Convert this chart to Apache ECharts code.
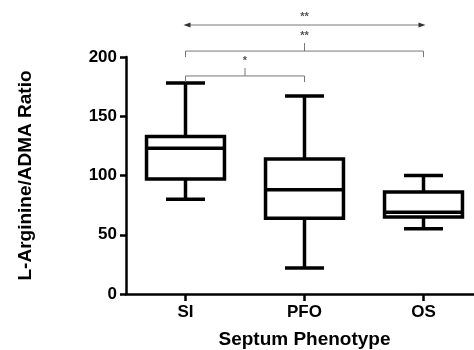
<!DOCTYPE html>
<html>
<head>
<meta charset="utf-8">
<script src="https://cdn.jsdelivr.net/npm/echarts@6/dist/echarts.min.js"></script>
<style>html,body{margin:0;padding:0;background:#fff}#c{width:474px;height:350px}</style>
</head>
<body>
<div id="c"></div>
<script>
// ---- data ----
var categories = ['SI', 'PFO', 'OS'];
var whiskerLow = [80, 22, 55];
var q1 = [97, 64, 65];
var median = [123, 88, 69];
var q3 = [133, 114, 86];
var whiskerHigh = [178, 167, 100];
var yTicks = [0, 50, 100, 150, 200];

// significance annotations
var sigFrom = [0, 0, 0];
var sigTo = [1, 2, 2];
var sigLevel = [184, 205, 227];
var sigKind = ['bracket', 'bracket', 'arrow'];
var sigLabels = ['*', '**', '**'];

var FONT = '"Liberation Sans", Arial, sans-serif';
var chart = echarts.init(document.getElementById('c'), null, {renderer: 'canvas'});

var boxData = categories.map(function (c, i) {
  return [i, whiskerLow[i], q1[i], median[i], q3[i], whiskerHigh[i]];
});
var sigData = sigFrom.map(function (f, i) { return [f, sigTo[i], sigLevel[i]]; });

var LW = 3.5;
var GRAY = '#777';

function renderBox(params, api) {
  var x = api.value(0);
  var pLow = api.coord([x, api.value(1)]);
  var pQ1 = api.coord([x, api.value(2)]);
  var pMed = api.coord([x, api.value(3)]);
  var pQ3 = api.coord([x, api.value(4)]);
  var pHigh = api.coord([x, api.value(5)]);
  var band = api.size([1, 0])[0];
  var bw = band * 0.655;
  var cw = bw / 2;
  var cx = pMed[0];
  var st = {stroke: '#000', lineWidth: LW, fill: null};
  function line(x1, y1, x2, y2) {
    return {type: 'line', shape: {x1: x1, y1: y1, x2: x2, y2: y2}, style: st};
  }
  return {
    type: 'group',
    children: [
      line(cx, pHigh[1], cx, pQ3[1]),
      line(cx, pQ1[1], cx, pLow[1]),
      line(cx - cw / 2, pHigh[1], cx + cw / 2, pHigh[1]),
      line(cx - cw / 2, pLow[1], cx + cw / 2, pLow[1]),
      {type: 'rect', shape: {x: cx - bw / 2, y: pQ3[1], width: bw, height: pQ1[1] - pQ3[1]},
       style: {stroke: '#000', lineWidth: LW, fill: '#fff'}},
      line(cx - bw / 2, pMed[1], cx + bw / 2, pMed[1])
    ]
  };
}

function renderSig(params, api) {
  var i = params.dataIndex;
  var a = api.coord([api.value(0), api.value(2)]);
  var b = api.coord([api.value(1), api.value(2)]);
  var y = a[1];
  var st = {stroke: GRAY, lineWidth: 1, fill: null};
  var mid = (a[0] + b[0]) / 2;
  var children = [];
  var labelY;
  if (sigKind[i] === 'bracket') {
    children.push({type: 'polyline', shape: {points: [[a[0], y + 6], [a[0], y], [b[0], y], [b[0], y + 6]]}, style: st});
    children.push({type: 'line', shape: {x1: mid, y1: y, x2: mid, y2: y - 8}, style: st});
    labelY = y - 18;
  } else {
    children.push({type: 'line', shape: {x1: a[0] + 2, y1: y, x2: b[0] - 2, y2: y}, style: st});
    children.push({type: 'polygon', shape: {points: [[a[0] - 2, y], [a[0] + 5, y - 2.5], [a[0] + 5, y + 2.5]]}, style: {fill: '#333'}});
    children.push({type: 'polygon', shape: {points: [[b[0] + 2, y], [b[0] - 5, y - 2.5], [b[0] - 5, y + 2.5]]}, style: {fill: '#333'}});
    labelY = y - 11;
  }
  children.push({type: 'text', style: {text: sigLabels[i], x: mid, y: labelY + 3, align: 'center', verticalAlign: 'middle',
    font: 'bold 11px ' + FONT, fill: '#555'}});
  return {type: 'group', children: children};
}

chart.setOption({
  backgroundColor: '#fff',
  animation: false,
  grid: {left: 126, top: 57, width: 357, height: 237, containLabel: false, outerBoundsMode: 'none'},
  xAxis: {
    type: 'category',
    data: categories,
    name: 'Septum Phenotype',
    nameLocation: 'middle',
    nameGap: 36,
    nameTextStyle: {fontFamily: FONT, fontWeight: 'bold', fontSize: 19, color: '#000'},
    axisLine: {show: true, lineStyle: {color: '#000', width: 2.5}},
    axisTick: {show: true, alignWithLabel: true, length: 7, lineStyle: {color: '#000', width: 2.5}},
    axisLabel: {fontFamily: FONT, fontWeight: 'bold', fontSize: 17, color: '#000', margin: 10},
    splitLine: {show: false}
  },
  yAxis: {
    type: 'value',
    min: 0, max: 200, interval: 50,
    name: 'L-Arginine/ADMA Ratio',
    nameLocation: 'middle',
    nameGap: 91,
    nameRotate: 90,
    nameTextStyle: {fontFamily: FONT, fontWeight: 'bold', fontSize: 19, color: '#000'},
    axisLine: {show: true, lineStyle: {color: '#000', width: 2.5}},
    axisTick: {show: true, length: 6, lineStyle: {color: '#000', width: 2.5}},
    axisLabel: {fontFamily: FONT, fontWeight: 'bold', fontSize: 17, color: '#000', margin: 9,
      formatter: function (v) { return yTicks.indexOf(v) >= 0 ? String(v) : ''; }},
    splitLine: {show: false}
  },
  series: [
    {type: 'custom', data: boxData, renderItem: renderBox, encode: {x: 0, y: [1, 2, 3, 4, 5]}, clip: false, z: 3},
    {type: 'custom', data: sigData, renderItem: renderSig, encode: {x: [0, 1], y: 2}, clip: false, z: 4}
  ]
});
</script>
</body>
</html>
